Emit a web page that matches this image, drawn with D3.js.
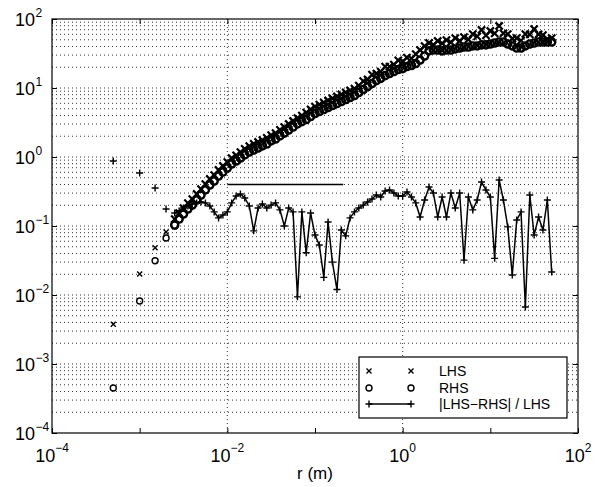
<!DOCTYPE html>
<html><head><meta charset="utf-8">
<script src="https://cdn.jsdelivr.net/npm/d3@7"></script>
<style>
body{margin:0;background:#fff}
svg{display:block}
text{font-family:"Liberation Sans",Arial,Helvetica,sans-serif;fill:#000}
</style>
</head><body><svg id="c" width="603" height="487"></svg>
<script>
// ---------- data ----------
const xTickValues = [1e-4, 1e-3, 1e-2, 1e-1, 1e0, 1e1, 1e2];
const xLabelExponents = [-4, -2, 0, 2];
const yLabelExponents = [-4, -3, -2, -1, 0, 1, 2];
const xTitle = "r (m)";
const legendLabels = ["LHS", "RHS", "|LHS\u2212RHS| / LHS"];

const rSparse = [0.0005, 0.001, 0.0015, 0.002];
const lhsSparse = [0.00376, 0.0202, 0.0485, 0.082];
const rhsSparse = [0.000449, 0.0082, 0.0314, 0.067];
const ratioSparse = [0.875, 0.586, 0.355, 0.176];

const rDense = [0.00251,0.00282,0.00316,0.00355,0.00398,0.00447,0.00501,0.00562,0.00631,0.00708,0.00794,0.00891,
  0.0100,0.0112,0.0126,0.0141,0.0158,0.0178,0.0200,0.0224,0.0251,0.0282,0.0316,0.0355,0.0398,0.0447,0.0501,0.0562,0.0631,0.0708,0.0794,0.0891,
  0.100,0.112,0.126,0.141,0.158,0.178,0.200,0.224,0.251,0.282,0.316,0.355,0.398,0.447,0.501,0.562,0.631,0.708,0.794,0.891,
  1.00,1.12,1.26,1.41,1.58,1.78,2.00,2.24,2.51,2.82,3.16,3.55,3.98,4.47,5.01,5.62,6.31,7.08,7.94,8.91,
  10.0,11.2,12.6,14.1,15.8,17.8,20.0,22.4,25.1,28.2,31.6,35.5,39.8,44.7,50.1];
const lhsDense = [0.126,0.154,0.182,0.215,0.246,0.291,0.343,0.406,0.480,0.548,0.648,0.741,
  0.846,0.967,1.06,1.18,1.31,1.44,1.55,1.65,1.76,1.89,2.08,2.22,2.47,2.72,3.01,3.33,3.67,3.99,
  4.41,4.88,5.39,5.76,6.16,6.59,7.05,7.53,8.05,8.61,9.20,9.80,10.8,12.6,13.3,15.6,16.2,17.3,20.4,20.4,
  21.9,25.2,24.2,27.6,26.7,30.9,35.5,40.6,44.9,42.0,48.0,44.5,49.6,46.0,53.0,48.0,54.8,50.5,60.6,56.0,
  69.3,58.0,67.0,62.0,79.2,62.0,60.6,52.0,53.0,48.5,60.6,60.0,71.6,60.0,58.6,51.0,53.0];
const rhsDense = [0.103,0.126,0.149,0.176,0.201,0.238,0.281,0.333,0.393,0.449,0.530,0.606,
  0.693,0.792,0.875,0.967,1.07,1.18,1.26,1.35,1.45,1.54,1.71,1.82,2.02,2.22,2.46,2.72,3.01,3.26,
  3.49,3.86,4.27,4.56,4.88,5.21,5.57,5.96,6.37,6.81,7.28,7.79,8.61,9.51,10.5,11.6,12.8,13.8,15.1,16.2,
  17.3,18.5,19.1,20.5,21.2,22.6,25.4,29.1,34.5,35.5,35.5,34.5,35.5,35.5,36.8,38.0,39.3,39.3,40.7,40.7,
  42.1,42.1,43.4,44.9,46.4,46.4,43.4,40.7,38.0,38.0,40.7,43.4,44.9,46.4,46.4,46.4,46.4];
const ratioDense = [0.154,0.165,0.182,0.195,0.208,0.216,0.223,0.216,0.195,0.160,0.131,0.144,
  0.160,0.216,0.272,0.291,0.255,0.195,0.085,0.182,0.208,0.182,0.201,0.216,0.171,0.100,0.182,0.160,0.0094,0.160,
  0.041,0.154,0.074,0.053,0.018,0.114,0.030,0.012,0.0875,0.072,0.131,0.160,0.182,0.201,0.223,0.246,0.281,0.263,0.322,0.333,
  0.301,0.272,0.272,0.311,0.263,0.216,0.135,0.238,0.367,0.301,0.135,0.263,0.135,0.301,0.182,0.301,0.032,0.263,0.171,0.238,
  0.434,0.333,0.263,0.034,0.464,0.238,0.097,0.0195,0.122,0.160,0.0067,0.281,0.074,0.135,0.0875,0.238,0.0215];

const refR = [0.01, 0.21];
const refValue = [0.4, 0.4];

// ---------- layout ----------
const L = 52, R = 578, T = 19, B = 433;
const svg = d3.select("#c");
const x = d3.scaleLog().domain([1e-4, 1e2]).range([L, R]);
const y = d3.scaleLog().domain([1e-4, 1e2]).range([B, T]);

// grid
const gridY = [];
for (let e = -4; e < 2; e++) for (let m = 1; m <= 9; m++) gridY.push(m * Math.pow(10, e));
const g = svg.append("g");
g.selectAll("line.gy").data(gridY.filter(v => v > 1e-4)).enter().append("line")
  .attr("x1", L).attr("x2", R).attr("y1", d => y(d)).attr("y2", d => y(d))
  .attr("stroke", "#333").attr("stroke-width", 1).attr("stroke-dasharray", "1,3");
g.selectAll("line.gx").data([1e-2, 1e0]).enter().append("line")
  .attr("y1", T).attr("y2", B).attr("x1", d => x(d)).attr("x2", d => x(d))
  .attr("stroke", "#333").attr("stroke-width", 1).attr("stroke-dasharray", "1,3");

// axes (inward ticks)
const yTickValues = yLabelExponents.map(e => Math.pow(10, e));
function styleAxis(sel) { sel.select(".domain").remove(); sel.selectAll("line").attr("stroke", "#000"); }
svg.append("g").attr("transform", `translate(0,${B})`).call(d3.axisBottom(x).tickValues(xTickValues).tickSize(-5).tickSizeOuter(0).tickFormat("")).call(styleAxis);
svg.append("g").attr("transform", `translate(0,${T})`).call(d3.axisTop(x).tickValues(xTickValues).tickSize(-5).tickSizeOuter(0).tickFormat("")).call(styleAxis);
svg.append("g").attr("transform", `translate(${L},0)`).call(d3.axisLeft(y).tickValues(yTickValues).tickSize(-5).tickSizeOuter(0).tickFormat("")).call(styleAxis);
svg.append("g").attr("transform", `translate(${R},0)`).call(d3.axisRight(y).tickValues(yTickValues).tickSize(-5).tickSizeOuter(0).tickFormat("")).call(styleAxis);
svg.append("rect").attr("x", L).attr("y", T).attr("width", R - L).attr("height", B - T)
  .attr("fill", "none").attr("stroke", "#000").attr("stroke-width", 1.2);

const sup = e => (e < 0 ? "\u2212" + (-e) : "" + e);
// y labels
yLabelExponents.forEach(e => {
  const yy = y(Math.pow(10, e));
  svg.append("text").attr("x", 35).attr("y", yy + 6.5).attr("text-anchor", "end").attr("font-size", 18).text("10");
  svg.append("text").attr("x", 35.5).attr("y", yy - 2).attr("font-size", 12).text(sup(e));
});
// x labels
xLabelExponents.forEach(e => {
  const xx = x(Math.pow(10, e));
  const t = svg.append("text").attr("x", xx).attr("y", 462).attr("text-anchor", "middle").attr("font-size", 18);
  t.append("tspan").text("10");
  t.append("tspan").attr("font-size", 12).attr("dy", -10).text(sup(e));
});
svg.append("text").attr("x", (L + R) / 2).attr("y", 479).attr("text-anchor", "middle").attr("font-size", 17).text(xTitle);

// markers
const clip = svg.append("g");
function xMark(sel, s, w) { sel.append("path").attr("d", `M${-s},${-s}L${s},${s}M${-s},${s}L${s},${-s}`).attr("stroke", "#000").attr("stroke-width", w || 1.4).attr("fill", "none"); }
function oMark(sel, r, w) { sel.append("circle").attr("r", r).attr("stroke", "#000").attr("stroke-width", w || 1.4).attr("fill", "none"); }
function pMark(sel, s) { sel.append("path").attr("d", `M${-s},0L${s},0M0,${-s}L0,${s}`).attr("stroke", "#000").attr("stroke-width", 1.4).attr("fill", "none"); }

const lhsS = rSparse.map((r, i) => [r, lhsSparse[i]]);
const rhsS = rSparse.map((r, i) => [r, rhsSparse[i]]);
const lhsD = rDense.map((r, i) => [r, lhsDense[i]]);
const rhsD = rDense.map((r, i) => [r, rhsDense[i]]);
const ratioAll = rSparse.map((r, i) => [r, ratioSparse[i]]).concat(rDense.map((r, i) => [r, ratioDense[i]]));
const ratioLineData = rDense.map((r, i) => [r, ratioDense[i]]);
const tr = d => `translate(${x(d[0])},${y(d[1])})`;

clip.selectAll("g.lhs").data(lhsS).enter().append("g").attr("transform", tr).each(function () { xMark(d3.select(this), 2.5); });
clip.selectAll("g.rhs").data(rhsS).enter().append("g").attr("transform", tr).each(function () { oMark(d3.select(this), 3); });
clip.selectAll("g.lhsd").data(lhsD).enter().append("g").attr("transform", tr).each(function () { xMark(d3.select(this), 3.6, 2.2); });
clip.selectAll("g.rhsd").data(rhsD).enter().append("g").attr("transform", tr).each(function () { oMark(d3.select(this), 3.6, 2.4); });

const line = d3.line().x(d => x(d[0])).y(d => y(d[1]));
clip.append("path").datum(ratioLineData).attr("d", line).attr("fill", "none").attr("stroke", "#000").attr("stroke-width", 1.5);
clip.selectAll("g.rat").data(ratioAll).enter().append("g").attr("transform", tr).each(function () { pMark(d3.select(this), 3.5); });

// reference segment
clip.append("path").datum(refR.map((r, i) => [r, refValue[i]])).attr("d", line).attr("fill", "none").attr("stroke", "#000").attr("stroke-width", 1.5);

// legend
const lg = svg.append("g");
lg.append("rect").attr("x", 359).attr("y", 357).attr("width", 208).attr("height", 61).attr("fill", "#fff").attr("stroke", "#000").attr("stroke-width", 1.2);
const rows = [371, 388, 404];
[369, 411].forEach(mx => {
  lg.append("g").attr("transform", `translate(${mx},${rows[0]})`).call(s => xMark(s, 2.5));
  lg.append("g").attr("transform", `translate(${mx},${rows[1]})`).call(s => oMark(s, 3));
  lg.append("g").attr("transform", `translate(${mx},${rows[2]})`).call(s => pMark(s, 3.5));
});
lg.append("line").attr("x1", 369).attr("x2", 411).attr("y1", rows[2]).attr("y2", rows[2]).attr("stroke", "#000").attr("stroke-width", 1.3);
legendLabels.forEach((t, i) => {
  lg.append("text").attr("x", 439).attr("y", rows[i] + 5).attr("font-size", 14).text(t);
});
</script>
</body></html>
